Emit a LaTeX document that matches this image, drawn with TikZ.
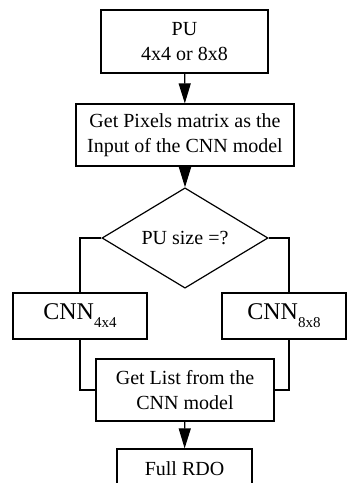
\documentclass[tikz,border=0pt]{standalone}
\usepackage{fontspec}
\setmainfont{Liberation Serif}
\usetikzlibrary{arrows.meta, shapes.geometric}

\begin{document}
\begin{tikzpicture}[x=0.5pt, y=-0.5pt,
	line width=0.6pt,
	box/.style={draw, rectangle, inner sep=0pt, align=center, font=\fontsize{10}{12.5}\selectfont},
	choice/.style={draw, diamond, inner sep=0pt, font=\fontsize{10}{12.5}\selectfont},
	flow/.style={-{Triangle[length=10pt, width=6pt]}}]

	% picture frame, in pixels of the reference (y runs downwards)
	\useasboundingbox (0,0) rectangle (348,483);
	\clip (0,0) rectangle (348,483);

	\node[box, minimum width=83.5pt, minimum height=31.5pt] (pu) at (184.5,41.5) {PU\\4x4 or 8x8};
	\node[box, minimum width=109pt, minimum height=31pt] (pix) at (185,135) {Get Pixels matrix as the\\Input of the CNN model};
	\node[choice, minimum width=83pt, minimum height=42.5pt] (size) at (185,238) {PU size =?};

	% the two networks
	\node[box, minimum width=67pt, minimum height=23pt] (cnnA) at (80,316) {{\fontsize{12}{14}\selectfont CNN}\raisebox{-4pt}{\fontsize{7.5}{9}\selectfont 4x4}};
	\node[box, minimum width=62pt, minimum height=23pt] (cnnB) at (284,316) {{\fontsize{12}{14}\selectfont CNN}\raisebox{-4pt}{\fontsize{7.5}{9}\selectfont 8x8}};

	\node[box, minimum width=89pt, minimum height=31pt] (list) at (185,390) {Get List from the\\CNN model};
	\node[box, minimum width=67.5pt, minimum height=20pt] (rdo) at (184.5,469) {Full RDO};

	\draw[flow] (pu) -- (pix);
	\draw[flow] (pix) -- (size);
	\draw (size.west) -| (cnnA.north);
	\draw (size.east) -| ([xshift=2.5pt]cnnB.north);
	\draw (cnnA.south) |- (list.west);
	\draw ([xshift=2.5pt]cnnB.south) |- (list.east);
	\draw[flow] (list) -- (rdo);

\end{tikzpicture}
\end{document}
